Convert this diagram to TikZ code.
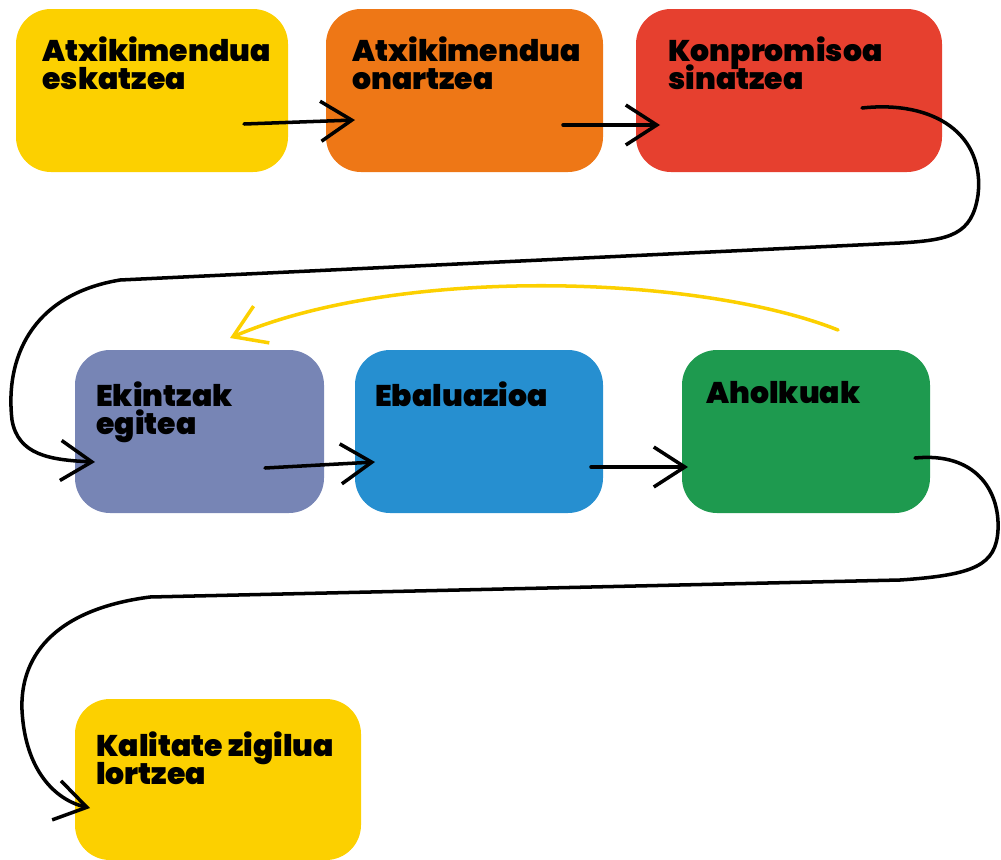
\documentclass[tikz,border=0pt]{standalone}
\usepackage{fontspec}
\setmainfont{Poppins}[BoldFont={Poppins Black}]
\usetikzlibrary{arrows.meta}

\definecolor{horia}{HTML}{FCD000}
\definecolor{laranja}{HTML}{EE7716}
\definecolor{gorria}{HTML}{E6402F}
\definecolor{morea}{HTML}{7785B5}
\definecolor{urdina}{HTML}{268FD0}
\definecolor{berdea}{HTML}{1E9A4F}

\newcommand{\testuletra}{\fontsize{17}{16}\selectfont\bfseries
  \lineskiplimit=-100pt\relax}

\tikzset{
  testua/.style={anchor=north west, inner sep=0pt, align=left,
    font=\testuletra},
  gezia/.style={line width=2pt, line cap=round,
    -{Straight Barb[length=0.62cm, width=0.8cm, line width=2pt]}}
}

\begin{document}
\begin{tikzpicture}[x=0.02cm, y=-0.02cm]
  % Marco
  \useasboundingbox (0,0) rectangle (1001,859);

  % Cajas
  \fill[horia,   rounded corners=0.7cm] (16,9)   rectangle (288,172);
  \fill[laranja, rounded corners=0.7cm] (326,9)  rectangle (603,172);
  \fill[gorria,  rounded corners=0.7cm] (636,9)  rectangle (942,172);
  \fill[morea,   rounded corners=0.7cm] (75,350) rectangle (324,513);
  \fill[urdina,  rounded corners=0.7cm] (355,350) rectangle (603,513);
  \fill[berdea,  rounded corners=0.7cm] (682,350) rectangle (930,513);
  \fill[horia,   rounded corners=0.7cm] (75,699) rectangle (361,860);

  % Textos
  \node[testua] (eskatu)   at (42,36)   {Atxikimendua\\eskatzea};
  \node[testua] (onartu)   at (352,36)  {Atxikimendua\\onartzea};
  \node[testua] (sinatu)   at (668,36)  {Konpromisoa\\sinatzea};
  \node[testua] (ekintzak) at (96,381)  {Ekintzak\\egitea};
  \node[testua] (ebaluatu) at (375,381) {Ebaluazioa};
  \node[testua] (aholkuak) at (706,381) {Aholkuak};
  \node[testua] (zigilua)  at (96,731)  {Kalitate zigilua\\lortzea};

  % Puntos de las flechas
  \coordinate (a1) at (244,124);  \coordinate (b1) at (355,120);
  \coordinate (a2) at (563,125);  \coordinate (b2) at (660,125);
  \coordinate (a3) at (862,108);  \coordinate (b3) at (95,462);
  \coordinate (a4) at (265,468);  \coordinate (b4) at (375,462);
  \coordinate (a5) at (591,467);  \coordinate (b5) at (688,467);
  \coordinate (a6) at (915,458);  \coordinate (b6) at (90,808);
  \coordinate (a7) at (838,330);  \coordinate (b7) at (230,338);

  % Flechas rectas
  \draw[gezia] (a1) -- (b1);
  \draw[gezia] (a2) -- (b2);
  \draw[gezia] (a4) -- (b4);
  \draw[gezia] (a5) -- (b5);

  % Flechas curvas
  \draw[gezia] (a3) .. controls (935,100) and (985,135) .. (978,195)
    .. controls (972,235) and (950,240) .. (900,243)
    -- (120,280) .. controls (30,295) and (5,360) .. (12,420)
    .. controls (18,455) and (50,460) .. (b3);
  \draw[gezia] (a6) .. controls (975,452) and (1000,490) .. (998,530)
    .. controls (996,565) and (975,575) .. (900,580)
    -- (150,597) .. controls (50,610) and (20,660) .. (22,710)
    .. controls (25,770) and (55,800) .. (b6);
  \draw[gezia, horia] (a7) .. controls (700,275) and (400,265) .. (b7);
\end{tikzpicture}
\end{document}
